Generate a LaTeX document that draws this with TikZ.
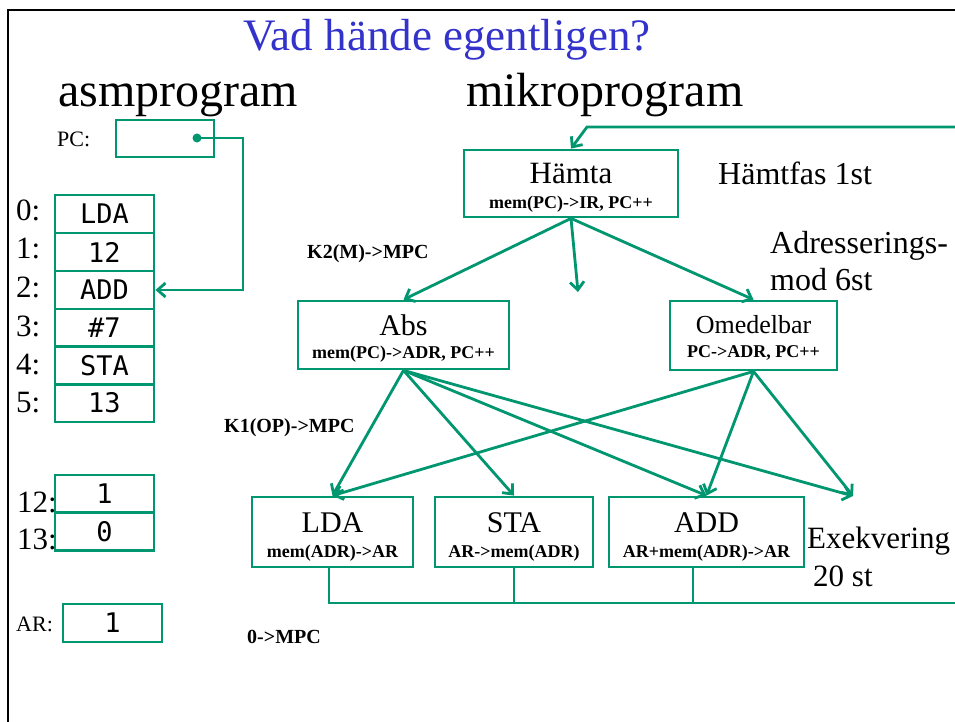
\documentclass[tikz,border=0pt]{standalone}
\usepackage{fontspec}
\setmainfont{Liberation Serif}
\newfontfamily\cellfont{DejaVu Sans Mono}
\usetikzlibrary{arrows.meta,calc}
\definecolor{grn}{RGB}{0,150,112}
\definecolor{ttl}{RGB}{51,51,204}
\newcommand\fsz[1]{\fontsize{#1}{#1}\selectfont}
\begin{document}
\begin{tikzpicture}[x=1pt,y=-1pt,
  ln/.style={draw=grn,line width=2.8pt},
  arr/.style={ln,-{Straight Barb[length=8pt,width=14pt]}},
  bx/.style={draw=grn,line width=2.8pt,inner sep=0pt,rectangle},
  cell/.style={bx,minimum width=99pt,minimum height=38pt,font=\cellfont\fsz{27}},
  lbl/.style={inner sep=0pt,anchor=base west},
  ctr/.style={inner sep=0pt,anchor=base},
  big/.style={lbl,font=\fsz{48}},
  side/.style={lbl,font=\fsz{32}},
  mpc/.style={lbl,font=\bfseries\fsz{20}},
  addr/.style={lbl,font=\fsz{31}},
  sub/.style={ctr,font=\bfseries\fsz{18}},
  head/.style={ctr,font=\fsz{30}}]
\useasboundingbox (0,0) rectangle (955,722);
\fill[white] (0,0) rectangle (955,722);
% frame
\coordinate (frBL) at (8,722);
\coordinate (frTL) at (8,10);
\coordinate (frTR) at (955,10);
\draw[line width=2.6pt] (frBL) -- (frTL) -- (frTR);
% headings
\node[ctr,font=\fsz{45},text=ttl] (title) at (447,51) {Vad hände egentligen?};
\node[big] (asm) at (58,107) {asmprogram};
\node[big] (mik) at (466,107) {mikroprogram};
% PC
\node[lbl,font=\fsz{22}] (pclbl) at (57,147) {PC:};
\node[bx,minimum width=98pt,minimum height=37pt] (pc) at (165,138.5) {};
\fill[grn] (197,138) circle (4.5pt);
\coordinate (pcdot) at (197,138);
% memory
\node[cell] (m0) at (104.5,214) {LDA};
\node[cell] (m1) at (104.5,252) {12};
\node[cell] (m2) at (104.5,290) {ADD};
\node[cell] (m3) at (104.5,328) {\#7};
\node[cell] (m4) at (104.5,365.5) {STA};
\node[cell] (m5) at (104.5,403) {13};
\node[addr] (a0) at (16,220) {0:};
\node[addr] (a1) at (16,258) {1:};
\node[addr] (a2) at (16,297) {2:};
\node[addr] (a3) at (16,336) {3:};
\node[addr] (a4) at (16,374) {4:};
\node[addr] (a5) at (16,412) {5:};
\node[cell] (m12) at (104.5,494) {1};
\node[cell] (m13) at (104.5,531.5) {0};
\node[addr] (a12) at (17,512) {12:};
\node[addr] (a13) at (17,549) {13:};
\node[lbl,font=\fsz{22}] (arlbl) at (16,631) {AR:};
\node[cell] (ar) at (112.5,623) {1};
% PC pointer
\coordinate (pcturn) at (243,290);
\draw[arr] (pcdot) -| (pcturn) -- (m2.east);
% micro program boxes
\node[bx,minimum width=214pt,minimum height=67pt] (hamta) at (571,183.5) {};
\node[head,font=\fsz{31}] (hamtaT) at (571,183) {Hämta};
\node[sub] (hamtaS) at (571,208) {mem(PC)->IR, PC++};
\node[bx,minimum width=211pt,minimum height=68pt] (abs) at (403.5,335) {};
\node[head] (absT) at (403.5,335) {Abs};
\node[sub] (absS) at (403.5,358) {mem(PC)->ADR, PC++};
\node[bx,minimum width=167pt,minimum height=69pt] (omed) at (753.5,335.5) {};
\node[head,font=\fsz{26}] (omedT) at (753.5,333) {Omedelbar};
\node[sub] (omedS) at (753.5,357) {PC->ADR, PC++};
\node[bx,minimum width=161pt,minimum height=70pt] (lda) at (332.5,532) {};
\node[head] (ldaT) at (332.5,532) {LDA};
\node[sub] (ldaS) at (332.5,557) {mem(ADR)->AR};
\node[bx,minimum width=158pt,minimum height=70pt] (sta) at (514,532) {};
\node[head] (staT) at (514,532) {STA};
\node[sub] (staS) at (514,557) {AR->mem(ADR)};
\node[bx,minimum width=195pt,minimum height=70pt] (add) at (706.5,532) {};
\node[head] (addT) at (706.5,532) {ADD};
\node[sub] (addS) at (706.5,557) {AR+mem(ADR)->AR};
% side labels
\node[side] (hf) at (718,185) {Hämtfas 1st};
\node[side] (ad1) at (770,253) {Adresserings-};
\node[side] (ad2) at (770,290) {mod 6st};
\node[side,font=\fsz{31}] (ex1) at (807,548) {Exekvering};
\node[side,font=\fsz{31}] (ex2) at (813,586) {20 st};
\node[mpc] (k2) at (307,258) {K2(M)->MPC};
\node[mpc] (k1) at (224,432) {K1(OP)->MPC};
\node[mpc] (z) at (247,643) {0->MPC};
% feedback
\coordinate (fbR) at (955,127);
\coordinate (fbK) at (587,127);
\draw[arr] (fbR) -- (fbK) -- (hamta.north);
% fetch branches
\coordinate (hdown) at (578,292);
\draw[arr] (hamta.south) -- (abs.north);
\draw[arr] (hamta.south) -- (hdown);
\draw[arr] (hamta.south) -- (omed.north);
% addressing -> execution
\coordinate (exfree) at (853,496);
\draw[arr] (abs.south) -- (lda.north);
\draw[arr] (abs.south) -- (sta.north);
\draw[arr] (abs.south) -- (add.north);
\draw[arr] (abs.south) -- (exfree);
\draw[arr] (omed.south) -- (lda.north);
\draw[arr] (omed.south) -- (add.north);
\draw[arr] (omed.south) -- (exfree);
% bus
\coordinate (busR) at (955,603);
\coordinate (addb) at ($(add.south)+(-13.5,0)$);
\coordinate (ldab) at ($(lda.south)+(-3.5,0)$);
\draw[ln] (ldab) -- (ldab |- busR) -- (busR);
\draw[ln] (sta.south) -- (sta.south |- busR);
\draw[ln] (addb) -- (addb |- busR);
\end{tikzpicture}
\end{document}
